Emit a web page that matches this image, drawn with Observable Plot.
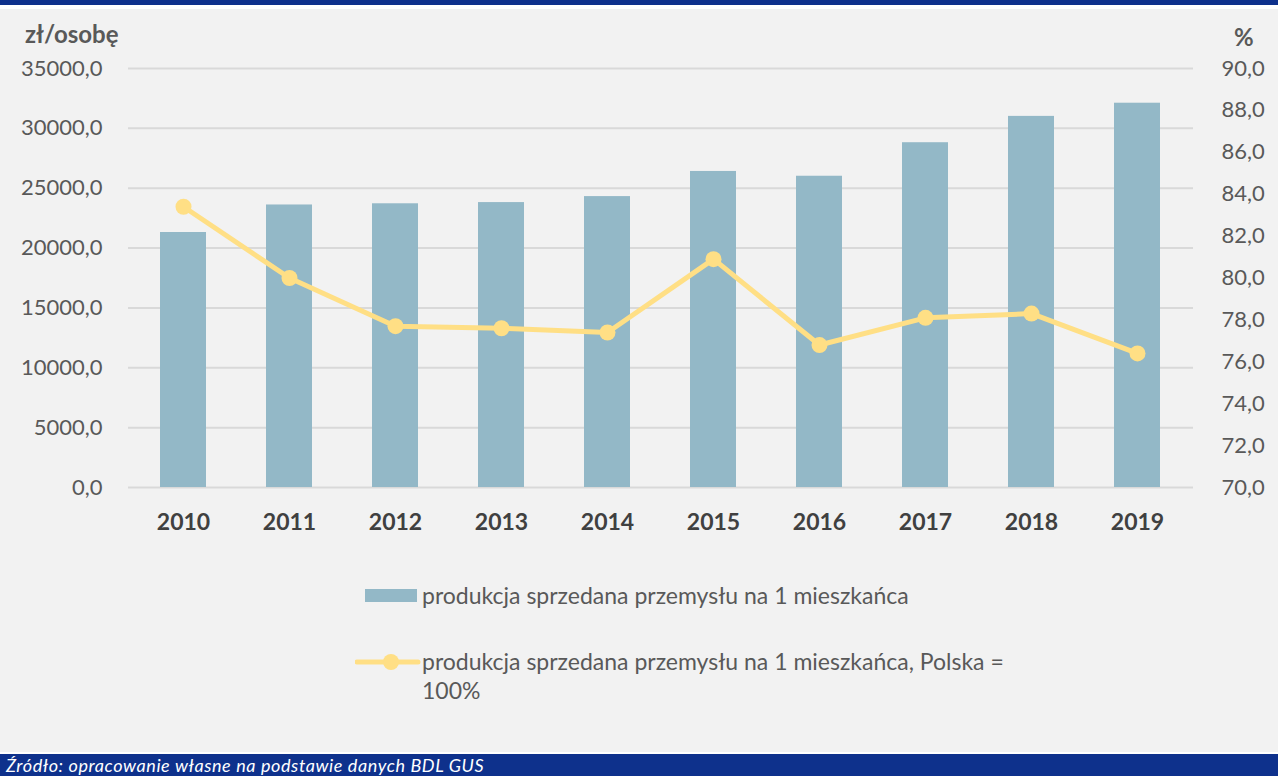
<!DOCTYPE html>
<html>
<head>
<meta charset="utf-8">
<script src="https://cdn.jsdelivr.net/npm/d3@7"></script>
<script src="https://cdn.jsdelivr.net/npm/@observablehq/plot@0.6"></script>
<style>
  html, body { margin: 0; padding: 0; background: #ffffff; }
  #frame { position: relative; width: 1278px; height: 776px; background: #ffffff; overflow: hidden; font-family: Lato, "Open Sans", sans-serif; }
  #topband { position: absolute; left: 0; top: 0; width: 1278px; height: 5px; background: #0e318c; }
  #panel { position: absolute; left: 0; top: 9px; width: 1278px; height: 743px; background: #f2f2f2; }
  #bottomband { position: absolute; left: 0; top: 754px; width: 1278px; height: 22px; background: #0e318c; }
  #caption { position: absolute; left: 6px; top: 0px; color: #ffffff; font-style: italic; font-size: 18px; line-height: 22px; letter-spacing: 0.6px; white-space: nowrap; }
  #chart { position: absolute; left: 0; top: 0; }
  .atitle { position: absolute; color: #595959; font-weight: bold; font-size: 24px; line-height: 24px; white-space: nowrap; }
  .legtext { position: absolute; color: #595959; font-size: 23px; line-height: 29px; white-space: nowrap; }
</style>
</head>
<body>
<div id="frame">
  <div id="topband"></div>
  <div id="panel"></div>
  <div id="chart"></div>
  <div class="atitle" style="left:25px; top:22px;">zł/osobę</div>
  <div class="atitle" style="left:1234px; top:25px;">%</div>
  <svg style="position:absolute; left:355px; top:580px;" width="70" height="100">
    <rect x="10" y="9" width="52" height="13" fill="#93b8c7"></rect>
    <line x1="2" y1="82" x2="63" y2="82" stroke="#ffdf85" stroke-width="5" stroke-linecap="round"></line>
    <circle cx="36" cy="82" r="8" fill="#ffdf85"></circle>
  </svg>
  <div class="legtext" style="left:422px; top:581px;">produkcja sprzedana przemysłu na 1 mieszkańca</div>
  <div class="legtext" style="left:422px; top:647px;">produkcja sprzedana przemysłu na 1 mieszkańca, Polska =<br>100%</div>
  <div id="bottomband"><div id="caption">Źródło: opracowanie własne na podstawie danych BDL GUS</div></div>
</div>
<script>
// ---- data ----
const years = ["2010","2011","2012","2013","2014","2015","2016","2017","2018","2019"];
const perCapita = [21300, 23600, 23700, 23800, 24300, 26400, 26000, 28800, 31000, 32100];
const pctOfPoland = [83.4, 80.0, 77.7, 77.6, 77.4, 80.9, 76.8, 78.1, 78.3, 76.4];
const leftTicks = [0, 5000, 10000, 15000, 20000, 25000, 30000, 35000];
const rightTicks = [70, 72, 74, 76, 78, 80, 82, 84, 86, 88, 90];

// right axis (70–90 %) mapped onto the left domain (0–35000)
const rMin = 70, rMax = 90, lMax = 35000;
const toLeft = v => (v - rMin) / (rMax - rMin) * lMax;
const fromLeft = d => d / lMax * (rMax - rMin) + rMin;
const fmt = v => v.toFixed(1).replace(".", ",");

const bars = years.map((y, i) => ({year: y, value: perCapita[i]}));
const line = years.map((y, i) => ({year: y, pct: pctOfPoland[i], yv: toLeft(pctOfPoland[i])}));

const barColor = "#93b8c7";
const lineColor = "#ffdf85";

const chart = Plot.plot({
  width: 1278,
  height: 560,
  marginLeft: 128,
  marginRight: 85,
  marginTop: 68,
  marginBottom: 73,
  style: {background: "transparent", fontFamily: "Lato, 'Open Sans', sans-serif", fontSize: "22px", color: "#595959"},
  x: {domain: years, paddingInner: 0.565, paddingOuter: 0.2825},
  y: {domain: [0, lMax]},
  marks: [
    Plot.ruleY(leftTicks, {stroke: "#d9d9d9", strokeWidth: 2}),
    Plot.barY(bars, {x: "year", y: "value", fill: barColor}),
    Plot.line(line, {x: "year", y: "yv", stroke: lineColor, strokeWidth: 5}),
    Plot.dot(line, {x: "year", y: "yv", r: 8, fill: lineColor}),
    Plot.axisY(leftTicks, {anchor: "left", tickSize: 0, tickPadding: 26, tickFormat: fmt, label: null, fill: "#595959"}),
    Plot.axisY(rightTicks.map(toLeft), {anchor: "right", tickSize: 0, tickPadding: 28, tickFormat: d => fmt(fromLeft(d)), label: null, fill: "#595959"}),
    Plot.axisX({tickSize: 0, tickPadding: 26, label: null, fontWeight: "bold", fill: "#404040", fontSize: 23})
  ]
});
document.getElementById("chart").appendChild(chart);
</script>
</body>
</html>
